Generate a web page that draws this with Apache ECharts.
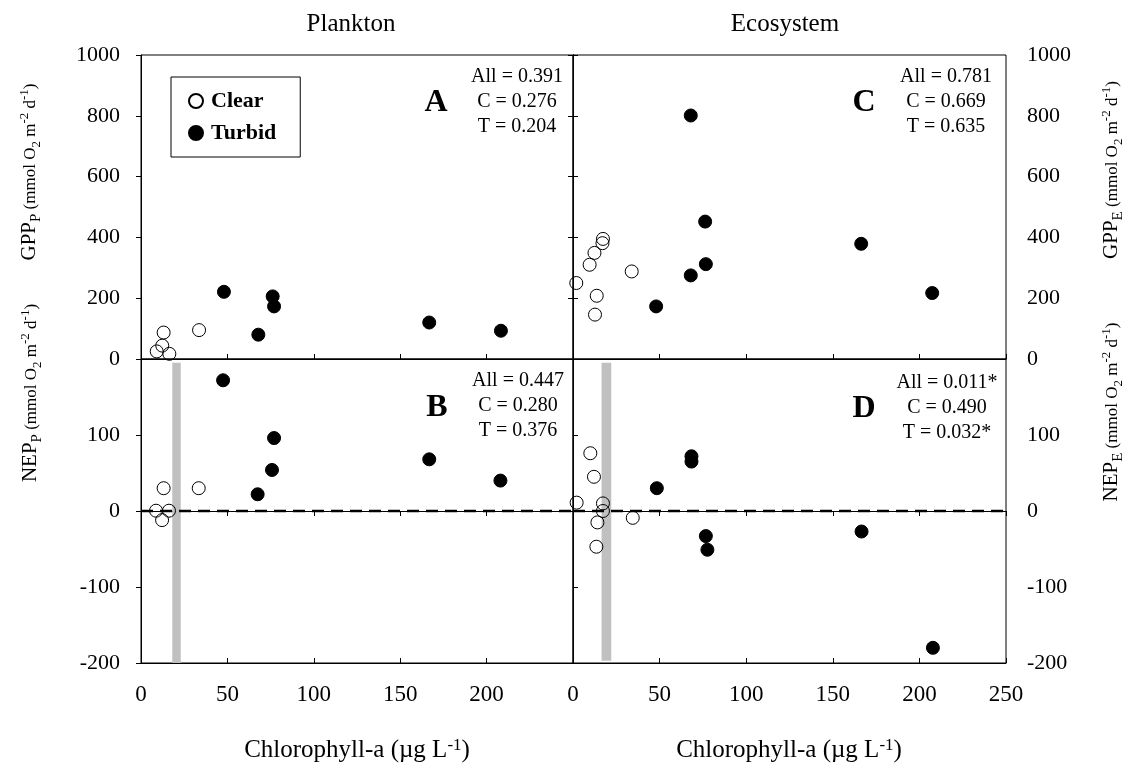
<!DOCTYPE html>
<html>
<head>
<meta charset="utf-8">
<script src="https://cdn.jsdelivr.net/npm/echarts@6/dist/echarts.min.js"></script>
<style>
html,body{margin:0;padding:0;background:#fff;}
#chart{width:1139px;height:770px;}
</style>
</head>
<body>
<div id="chart"></div>
<script>
// ---------- data (Chlorophyll-a, value) ----------
const xTicks = [0, 50, 100, 150, 200, 250];
const gppTicks = [0, 200, 400, 600, 800, 1000];
const nepTicks = [-200, -100, 0, 100, 200];

// Panel A: Plankton GPP
const gppPClear  = [[13.1, 87], [12.3, 44], [9.1, 25], [16.4, 17], [33.6, 95]];
const gppPTurbid = [[48.0, 221], [76.2, 206], [77.0, 173], [67.9, 80], [166.8, 120], [208.3, 93]];
// Panel B: Plankton NEP
const nepPClear  = [[13.1, 30], [33.4, 30], [8.7, 0.4], [16.2, 0.4], [12.2, -12]];
const nepPTurbid = [[47.5, 172], [77.0, 96], [75.8, 54], [67.5, 22], [166.8, 68], [208.0, 40]];
// Panel C: Ecosystem GPP
const gppEClear  = [[1.9, 250], [9.6, 310], [12.4, 349], [17.3, 395], [17.0, 381], [33.9, 288], [13.7, 208], [12.7, 146]];
const gppETurbid = [[68.0, 801], [76.3, 452], [76.7, 312], [68.0, 275], [48.0, 173], [166.4, 379], [207.4, 217]];
// Panel D: Ecosystem NEP
const nepEClear  = [[2.1, 11], [10.0, 76], [12.1, 45], [17.3, 10], [17.3, 0], [14.1, -15], [13.5, -47], [34.5, -9]];
const nepETurbid = [[68.4, 72], [68.4, 65], [48.4, 30], [76.7, -33], [77.6, -51], [166.6, -27], [207.8, -180]];

// Grey reference bands (x range, y range) in panels B and D
const bandP = [[18.1, 23.0], [-200, 195]];
const bandE = [[16.5, 22.1], [-197, 195]];
// zero reference level for NEP panels
const zeroLevel = 0;

const panelLetters = ['A', 'B', 'C', 'D'];
const panelStats = [
  ['All = 0.391', 'C = 0.276', 'T = 0.204'],
  ['All = 0.447', 'C = 0.280', 'T = 0.376'],
  ['All = 0.781', 'C = 0.669', 'T = 0.635'],
  ['All = 0.011*', 'C = 0.490', 'T = 0.032*']
];
const titles = ['Plankton', 'Ecosystem'];
const legendNames = ['Clear', 'Turbid'];

// ---------- chart ----------
const FONT = "'Liberation Serif', 'Times New Roman', serif";
const chart = echarts.init(document.getElementById('chart'), null, {renderer: 'canvas'});

const gridBox = {show: true, borderColor: '#000', borderWidth: 1, backgroundColor: 'transparent'};
const grids = [
  Object.assign({left: 141, top: 55, width: 432, height: 304}, gridBox),
  Object.assign({left: 141, top: 359, width: 432, height: 304}, gridBox),
  Object.assign({left: 573, top: 55, width: 433, height: 304}, gridBox),
  Object.assign({left: 573, top: 359, width: 433, height: 304}, gridBox)
];

const axLine = {show: true, lineStyle: {color: '#000', width: 1}};
function xAx(grid, pos, opts) {
  return Object.assign({
    type: 'value', gridIndex: grid, position: pos,
    min: xTicks[0], max: xTicks[xTicks.length - 1], interval: xTicks[1] - xTicks[0],
    axisLine: axLine, splitLine: {show: false},
    axisTick: {show: true, inside: true, length: 5, lineStyle: {color: '#000'}},
    axisLabel: {show: false}
  }, opts || {});
}
function yAx(grid, pos, ticks, opts) {
  return Object.assign({
    type: 'value', gridIndex: grid, position: pos,
    min: ticks[0], max: ticks[ticks.length - 1], interval: ticks[1] - ticks[0],
    axisLine: axLine, splitLine: {show: false},
    axisTick: {show: true, inside: true, length: 5, lineStyle: {color: '#000'}},
    axisLabel: {show: false}
  }, opts || {});
}
const plain = (v) => String(v);
const xLabel = (showMax) => ({show: true, margin: 20, fontFamily: FONT, fontSize: 23, color: '#000', showMaxLabel: showMax, formatter: plain});
const yLabel = (showMax) => ({show: true, margin: 21, fontFamily: FONT, fontSize: 22, color: '#000', showMaxLabel: showMax, formatter: plain});
const outTick = {show: true, inside: false, length: 5, lineStyle: {color: '#000'}};

const xAxis = [
  xAx(0, 'bottom'),                                                   // 0 A
  xAx(1, 'bottom', {axisTick: outTick, axisLabel: xLabel(false)}),    // 1 B labels
  xAx(1, 'top'),                                                      // 2 B top
  xAx(1, 'bottom'),                                                   // 3 B inside
  xAx(2, 'bottom'),                                                   // 4 C
  xAx(3, 'bottom', {axisTick: outTick, axisLabel: xLabel(true)}),     // 5 D labels
  xAx(3, 'top'),                                                      // 6 D top
  xAx(3, 'bottom')                                                    // 7 D inside
];
const yAxis = [
  yAx(0, 'left', gppTicks, {axisTick: outTick, axisLabel: yLabel(true)}),   // 0 A
  yAx(0, 'right', gppTicks),                                                // 1
  yAx(1, 'left', nepTicks, {axisTick: outTick, axisLabel: yLabel(false)}),  // 2 B
  yAx(1, 'right', nepTicks),                                                // 3
  yAx(2, 'right', gppTicks, {axisTick: outTick, axisLabel: yLabel(true)}),  // 4 C
  yAx(2, 'left', gppTicks),                                                 // 5
  yAx(3, 'right', nepTicks, {axisTick: outTick, axisLabel: yLabel(false)}), // 6 D
  yAx(3, 'left', nepTicks)                                                  // 7
];

const clearStyle = {color: 'rgba(255,255,255,0)', borderColor: '#000', borderWidth: 1, opacity: 1};
const turbidStyle = {color: '#000', borderColor: '#000', borderWidth: 1, opacity: 1};
function sc(name, data, xi, yi) {
  return {
    type: 'scatter', name: name, data: data, xAxisIndex: xi, yAxisIndex: yi,
    symbol: 'circle', symbolSize: 13, clip: false, z: 5,
    itemStyle: name === 'Clear' ? clearStyle : turbidStyle,
    emphasis: {disabled: true}
  };
}
function bandSeries(band, xi, yi) {
  return {
    type: 'scatter', name: 'band', data: [], xAxisIndex: xi, yAxisIndex: yi, z: 1,
    markArea: {
      silent: true, itemStyle: {color: '#c0c0c0', opacity: 1},
      data: [[{xAxis: band[0][0], yAxis: band[1][0]}, {xAxis: band[0][1], yAxis: band[1][1]}]]
    }
  };
}
function zeroLine(xi, yi) {
  return {
    type: 'line', name: 'zero', xAxisIndex: xi, yAxisIndex: yi, z: 3,
    data: [[xTicks[0], zeroLevel], [xTicks[xTicks.length - 1], zeroLevel]],
    symbol: 'none', silent: true, clip: true,
    lineStyle: {color: '#000', width: 2.5, type: [12, 7], opacity: 1},
    emphasis: {disabled: true}
  };
}

const series = [
  bandSeries(bandP, 1, 2), bandSeries(bandE, 5, 6),
  zeroLine(1, 2), zeroLine(5, 6),
  sc('Clear', gppPClear, 0, 0), sc('Turbid', gppPTurbid, 0, 0),
  sc('Clear', nepPClear, 1, 2), sc('Turbid', nepPTurbid, 1, 2),
  sc('Clear', gppEClear, 4, 4), sc('Turbid', gppETurbid, 4, 4),
  sc('Clear', nepEClear, 5, 6), sc('Turbid', nepETurbid, 5, 6)
];

// rich-text axis names
const richName = {
  b:  {fontFamily: FONT, fontSize: 21, verticalAlign: 'bottom', padding: [0, 0, 4, 0], color: '#000'},
  s:  {fontFamily: FONT, fontSize: 15, verticalAlign: 'bottom', padding: [0, 0, 0, 0], color: '#000'},
  m:  {fontFamily: FONT, fontSize: 17, verticalAlign: 'bottom', padding: [0, 0, 4, 0], color: '#000'},
  s2: {fontFamily: FONT, fontSize: 13, verticalAlign: 'bottom', padding: [0, 0, 0, 0], color: '#000'},
  p:  {fontFamily: FONT, fontSize: 13, verticalAlign: 'top', padding: [0, 0, 0, 0], color: '#000'}
};
function yName(big, sub) {
  return '{b|' + big + '}{s|' + sub + '}{m| (mmol O}{s2|2}{m| m}{p|-2}{m| d}{p|-1}{m|)}';
}
const richX = {
  n: {fontFamily: FONT, fontSize: 25, verticalAlign: 'bottom', color: '#000'},
  p: {fontFamily: FONT, fontSize: 17, verticalAlign: 'top', color: '#000'}
};
const xName = '{n|Chlorophyll-a (\u00b5g L}{p|-1}{n|)}';

function txt(x, y, text, size, weight) {
  return {
    type: 'text', x: x, y: y, z: 10, silent: true,
    style: {text: text, fill: '#000', font: (weight || 'normal') + ' ' + size + 'px ' + FONT,
            align: 'center', verticalAlign: 'middle', lineHeight: 25}
  };
}
function richTxt(x, y, text, rich, rot) {
  return {
    type: 'text', x: x, y: y, rotation: rot || 0, z: 10, silent: true,
    style: {text: text, rich: rich, fill: '#000', align: 'center', verticalAlign: 'middle'}
  };
}

const letterPos = [[436, 103], [437, 408], [864, 103], [864, 409]];
const statPos = [[517, 101.5], [518, 406], [946, 101.5], [947, 407.3]];
const graphic = [];
panelLetters.forEach((L, i) => graphic.push(txt(letterPos[i][0], letterPos[i][1], L, 32, 'bold')));
panelStats.forEach((s, i) => graphic.push(txt(statPos[i][0], statPos[i][1], s.join('\n'), 20)));
graphic.push(txt(351, 24, titles[0], 25));
graphic.push(txt(785, 24, titles[1], 25));
graphic.push(richTxt(357, 750, xName, richX));
graphic.push(richTxt(789, 750, xName, richX));
graphic.push(richTxt(31, 172, yName('GPP', 'P'), richName, Math.PI / 2));
graphic.push(richTxt(32, 393, yName('NEP', 'P'), richName, Math.PI / 2));
graphic.push(richTxt(1113, 170, yName('GPP', 'E'), richName, Math.PI / 2));
graphic.push(richTxt(1113, 412, yName('NEP', 'E'), richName, Math.PI / 2));

chart.setOption({
  animation: false,
  backgroundColor: '#fff',
  grid: grids,
  xAxis: xAxis,
  yAxis: yAxis,
  legend: {
    data: legendNames, left: 171, top: 77, orient: 'vertical',
    padding: [12, 24, 12, 17], itemGap: 8, itemWidth: 14, itemHeight: 14,
    borderColor: '#000', borderWidth: 1, backgroundColor: '#fff',
    selectedMode: false,
    textStyle: {fontFamily: FONT, fontSize: 22, fontWeight: 'bold', color: '#000', padding: [0, 0, 0, 3], lineHeight: 24}
  },
  series: series,
  graphic: graphic
});
</script>
</body>
</html>
